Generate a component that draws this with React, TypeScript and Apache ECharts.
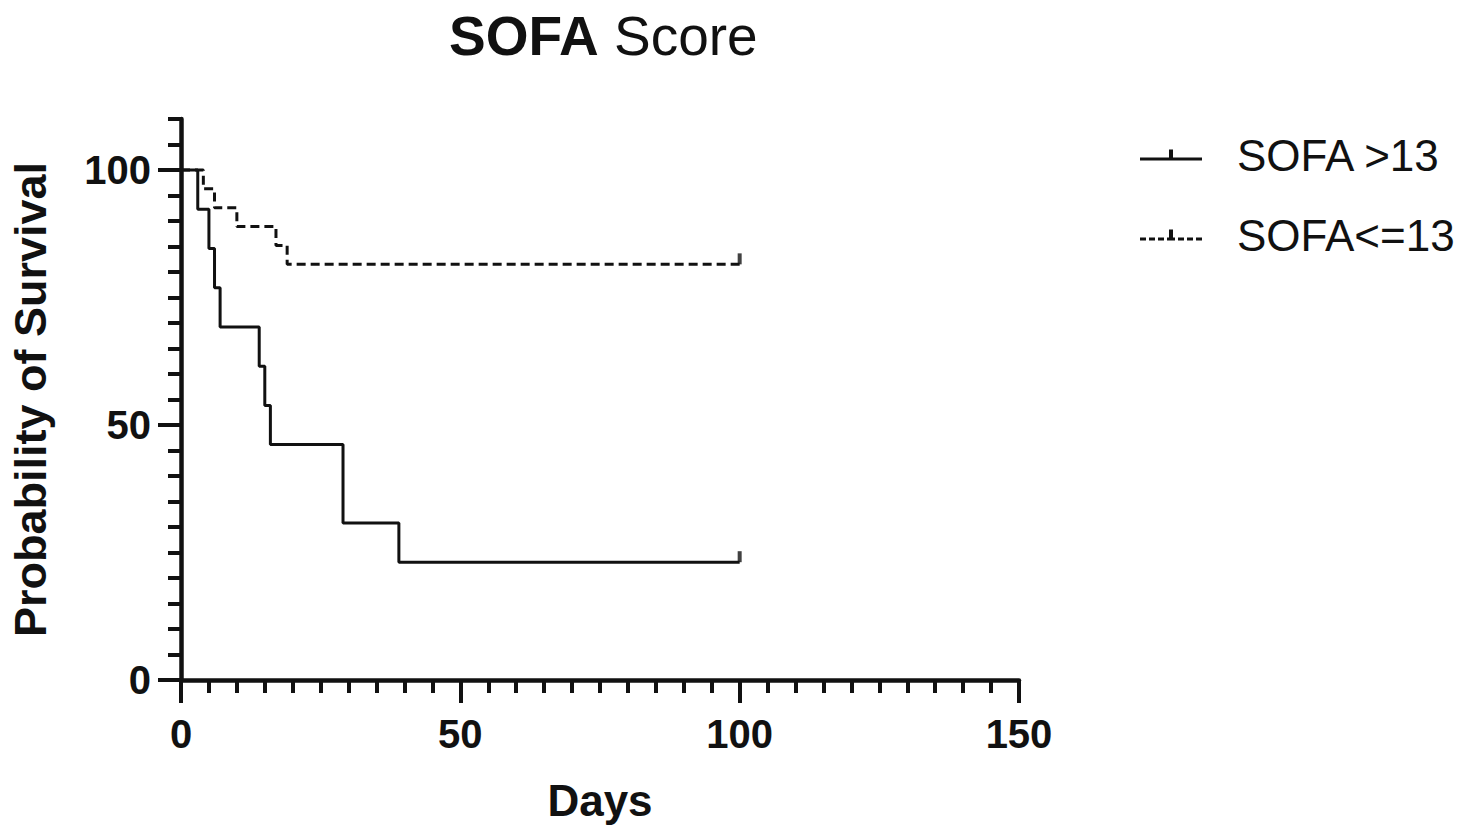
import React, { useEffect, useRef } from "react";
import * as echarts from "echarts";

const titleBold = "SOFA";
const titleRegular = "Score";
const xAxisName = "Days";
const yAxisName = "Probability of Survival";
const seriesNames = ["SOFA >13", "SOFA<=13"];

// Kaplan-Meier steps, group SOFA > 13
const highDays = [0, 3, 5, 6, 7, 14, 15, 16, 29, 39, 100];
const highSurv = [100, 92.3, 84.6, 76.9, 69.2, 61.5, 53.8, 46.2, 30.8, 23.1, 23.1];
// Kaplan-Meier steps, group SOFA <= 13
const lowDays = [0, 4, 6, 10, 17, 19, 100];
const lowSurv = [100, 96.3, 92.6, 88.9, 85.2, 81.5, 81.5];
// censoring marks
const censorHigh = [[100, 23.1]];
const censorLow = [[100, 81.5]];

const xTicks = { min: 0, max: 150, interval: 50 };
const yLabelValues = [0, 50, 100];
const yMax = 110;

const FONT = "'Liberation Sans', Arial, Helvetica, sans-serif";
const INK = "#111111";

const solidIcon = "path://M0,8h62v3h-62z M29,0h4v11h-4z";
const dashedIcon =
  "path://M0,8h6v3h-6z M9,8h6v3h-6z M18,8h6v3h-6z M27,8h8v3h-8z M38,8h6v3h-6z M47,8h6v3h-6z M56,8h6v3h-6z M29,0h4v11h-4z";

export default function App() {
  const ref = useRef<HTMLDivElement | null>(null);

  useEffect(() => {
    if (!ref.current) return;
    const chart = echarts.init(ref.current, undefined, { renderer: "svg" });
    const highData = highDays.map((d, i) => [d, highSurv[i]]);
    const lowData = lowDays.map((d, i) => [d, lowSurv[i]]);

    chart.setOption({
      animation: false,
      backgroundColor: "#ffffff",
      title: {
        text: `{b|${titleBold}}{r| ${titleRegular}}`,
        left: 444,
        top: 3,
        textStyle: {
          rich: {
            b: { fontFamily: FONT, fontSize: 55, fontWeight: "bold", color: INK },
            r: { fontFamily: FONT, fontSize: 55, fontWeight: "normal", color: INK },
          },
        },
      },
      legend: {
        orient: "vertical",
        left: 1135,
        top: 128,
        itemWidth: 62,
        itemHeight: 11,
        itemGap: 36,
        itemStyle: { borderWidth: 0 },
        data: [
          { name: seriesNames[0], icon: solidIcon },
          { name: seriesNames[1], icon: dashedIcon },
        ],
        textStyle: {
          fontFamily: FONT,
          fontSize: 44,
          color: INK,
          padding: [16, 0, 0, 30],
        },
      },
      grid: { left: 180, right: 456, top: 119, bottom: 150, containLabel: false },
      xAxis: {
        type: "value",
        min: xTicks.min,
        max: xTicks.max,
        interval: xTicks.interval,
        name: xAxisName,
        nameLocation: "middle",
        nameGap: 98,
        nameTextStyle: { fontFamily: FONT, fontSize: 44, fontWeight: "bold", color: INK },
        axisLine: { show: true, onZero: false, lineStyle: { color: INK, width: 4.5 } },
        axisTick: { show: true, length: 23, lineStyle: { color: INK, width: 4 } },
        minorTick: { show: true, splitNumber: 10, length: 13, lineStyle: { color: INK, width: 4 } },
        axisLabel: { fontFamily: FONT, fontSize: 40, fontWeight: "bold", color: INK, margin: 34 },
        splitLine: { show: false },
        minorSplitLine: { show: false },
      },
      yAxis: [
        {
          type: "value",
          min: 0,
          max: yMax,
          interval: 5,
          position: "left",
          offset: 0,
          name: yAxisName,
          nameLocation: "middle",
          nameGap: 128,
          nameRotate: 90,
          nameTextStyle: { fontFamily: FONT, fontSize: 45, fontWeight: "bold", color: INK },
          axisLine: { show: true, onZero: false, lineStyle: { color: INK, width: 4.5 } },
          axisTick: { show: true, length: 13, lineStyle: { color: INK, width: 4 } },
          axisLabel: { show: false },
          splitLine: { show: false },
        },
        {
          type: "value",
          min: 0,
          max: yMax,
          interval: 50,
          position: "left",
          offset: 0,
          axisLine: { show: false },
          axisTick: { show: true, length: 23, customValues: yLabelValues, lineStyle: { color: INK, width: 4 } },
          axisLabel: {
            show: true,
            customValues: yLabelValues,
            fontFamily: FONT,
            fontSize: 40,
            fontWeight: "bold",
            color: INK,
            margin: 30,
          },
          splitLine: { show: false },
        },
      ],
      series: [
        {
          name: seriesNames[0],
          type: "line",
          step: "end",
          symbol: "none",
          yAxisIndex: 0,
          data: highData,
          color: INK,
          lineStyle: { color: INK, width: 3 },
        },
        {
          name: seriesNames[1],
          type: "line",
          step: "end",
          symbol: "none",
          yAxisIndex: 0,
          data: lowData,
          color: INK,
          lineStyle: { color: INK, width: 3, type: [9, 5] },
        },
        {
          name: "censor-high",
          type: "scatter",
          yAxisIndex: 0,
          symbol: "rect",
          symbolSize: [4, 11],
          symbolOffset: [0, "-50%"],
          itemStyle: { color: INK },
          silent: true,
          data: censorHigh,
        },
        {
          name: "censor-low",
          type: "scatter",
          yAxisIndex: 0,
          symbol: "rect",
          symbolSize: [4, 11],
          symbolOffset: [0, "-50%"],
          itemStyle: { color: INK },
          silent: true,
          data: censorLow,
        },
      ],
    });

    return () => {
      chart.dispose();
    };
  }, []);

  return (
    <div
      ref={ref}
      style={{ position: "fixed", left: 0, top: 0, width: 1475, height: 830, background: "#fff" }}
    />
  );
}
